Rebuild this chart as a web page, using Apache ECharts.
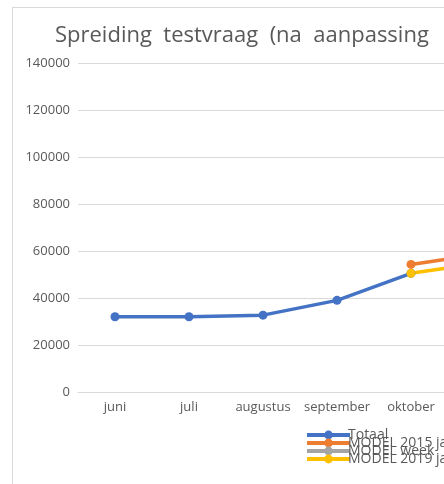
<!DOCTYPE html>
<html lang="nl">
<head>
<meta charset="utf-8">
<title>Spreiding testvraag</title>
<script src="https://cdn.jsdelivr.net/npm/echarts@6/dist/echarts.min.js"></script>
<style>
  html, body { margin: 0; padding: 0; width: 444px; height: 484px; overflow: hidden; background: #fff; }
  #main { position: absolute; left: 0; top: 0; width: 540px; height: 484px; }
  #frame { position: absolute; left: 12px; top: 7px; width: 600px; height: 600px;
           border-left: 1px solid #d9d9d9; border-top: 1px solid #d9d9d9; pointer-events: none; }
</style>
</head>
<body>
<div id="main"></div>
<div id="frame"></div>
<script>
// maanden (de grafiek loopt rechts buiten beeld door)
var maanden = ['juni', 'juli', 'augustus', 'september', 'oktober', 'november'];
var totaal = [32000, 32000, 32700, 39000, 50500, null];
var model2015 = [null, null, null, null, 54300, 58900];
var modelWeek = [null, null, null, null, null, null];
var model2019 = [null, null, null, null, 50500, 55100];

var font = '"Open Sans", sans-serif';
var grijs = '#595959';

function lijn(naam, data, kleur) {
	return {
		name: naam,
		type: 'line',
		data: data,
		symbol: 'circle',
		symbolSize: 9,
		lineStyle: { width: 3.5, color: kleur },
		itemStyle: { color: kleur },
		animation: false
	};
}

var myChart = echarts.init(document.getElementById('main'));
var option = {
	title: {
		text: 'Spreiding  testvraag  (na  aanpassing    van  het  model)',
		left: 50,
		top: 20,
		textStyle: { fontFamily: font, fontSize: 22, fontWeight: 'normal', color: grijs }
	},
	grid: { left: 78, right: 18, top: 63, bottom: 92 },
	legend: {
		orient: 'vertical',
		left: 300,
		top: 423,
		itemWidth: 43,
		itemHeight: 11,
		itemGap: -6,
		lineStyle: { width: 4 },
		textStyle: { fontFamily: font, fontSize: 14, color: grijs, padding: [0, 0, 0, -7] },
		data: ['Totaal', 'MODEL 2015 jaar', 'MODEL week', 'MODEL 2019 jaar']
	},
	xAxis: {
		type: 'category',
		data: maanden,
		axisLine: { lineStyle: { color: '#d9d9d9', width: 1 } },
		axisTick: { show: false },
		axisLabel: { fontFamily: font, fontSize: 13, color: grijs, margin: 9, interval: 0 }
	},
	yAxis: {
		type: 'value',
		min: 0,
		max: 140000,
		interval: 20000,
		axisLine: { show: false },
		axisTick: { show: false },
		splitLine: { lineStyle: { color: '#d9d9d9', width: 1 } },
		axisLabel: {
			fontFamily: font, fontSize: 13, color: grijs, margin: 8,
			formatter: function (v) { return String(v); }
		}
	},
	series: [
		lijn('Totaal', totaal, '#4472c4'),
		lijn('MODEL 2015 jaar', model2015, '#ed7d31'),
		lijn('MODEL week', modelWeek, '#a5a5a5'),
		lijn('MODEL 2019 jaar', model2019, '#ffc000')
	],
	animation: false
};
myChart.setOption(option);
</script>
</body>
</html>
